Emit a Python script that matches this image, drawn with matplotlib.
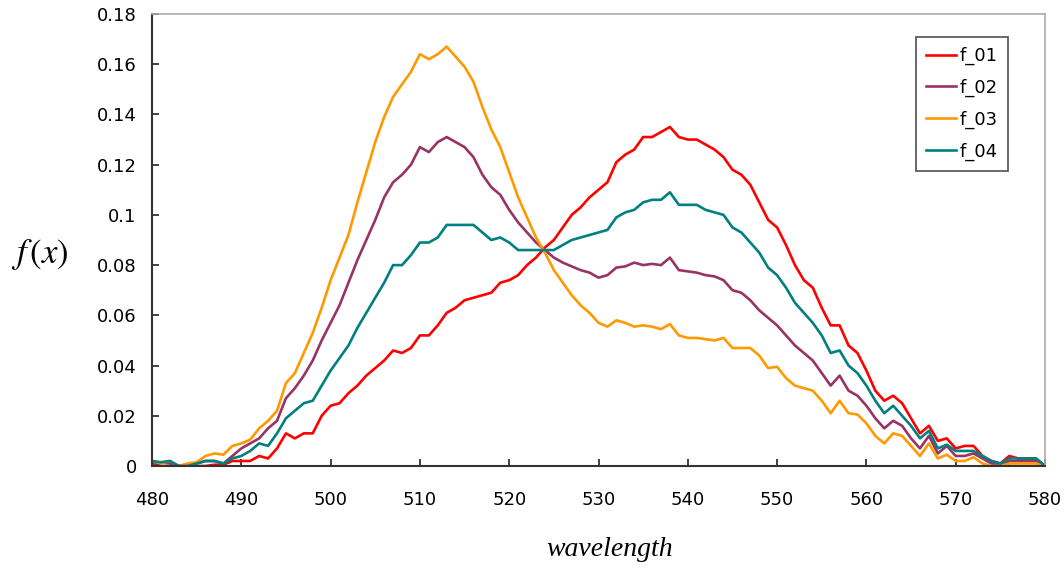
import matplotlib.pyplot as plt

plt.rcParams['mathtext.fontset'] = 'stix'

# wavelength grid (nm)
wavelength = list(range(480, 581))

f_01 = [0.001, 0.0, 0.0, 0.0, 0.0, 0.0, 0.0, 0.0005, 0.0005, 0.002,
        0.002, 0.002, 0.004, 0.003, 0.007, 0.013, 0.011, 0.013, 0.013, 0.020,
        0.024, 0.025, 0.029, 0.032, 0.036, 0.039, 0.042, 0.046, 0.045, 0.047,
        0.052, 0.052, 0.056, 0.061, 0.063, 0.066, 0.067, 0.068, 0.069, 0.073,
        0.074, 0.076, 0.080, 0.083, 0.087, 0.090, 0.095, 0.100, 0.103, 0.107,
        0.110, 0.113, 0.121, 0.124, 0.126, 0.131, 0.131, 0.133, 0.135, 0.131,
        0.130, 0.130, 0.128, 0.126, 0.123, 0.118, 0.116, 0.112, 0.105, 0.098,
        0.095, 0.088, 0.080, 0.074, 0.071, 0.063, 0.056, 0.056, 0.048, 0.045,
        0.038, 0.030, 0.026, 0.028, 0.025, 0.019, 0.013, 0.016, 0.010, 0.011,
        0.007, 0.008, 0.008, 0.004, 0.002, 0.001, 0.004, 0.003, 0.003, 0.003,
        0.0]

f_02 = [0.001, 0.0015, 0.001, 0.0, 0.0, 0.001, 0.002, 0.002, 0.001, 0.004,
        0.007, 0.009, 0.011, 0.015, 0.018, 0.027, 0.031, 0.036, 0.042, 0.050,
        0.057, 0.064, 0.073, 0.082, 0.090, 0.098, 0.107, 0.113, 0.116, 0.120,
        0.127, 0.125, 0.129, 0.131, 0.129, 0.127, 0.123, 0.116, 0.111, 0.108,
        0.102, 0.097, 0.093, 0.089, 0.086, 0.083, 0.081, 0.0795, 0.078, 0.077,
        0.075, 0.076, 0.079, 0.0795, 0.081, 0.080, 0.0805, 0.080, 0.083, 0.078,
        0.0775, 0.077, 0.076, 0.0755, 0.074, 0.070, 0.069, 0.066, 0.062, 0.059,
        0.056, 0.052, 0.048, 0.045, 0.042, 0.037, 0.032, 0.036, 0.030, 0.028,
        0.024, 0.019, 0.015, 0.018, 0.016, 0.011, 0.007, 0.012, 0.005, 0.008,
        0.004, 0.004, 0.005, 0.003, 0.001, 0.0, 0.002, 0.002, 0.002, 0.002,
        0.0]

f_03 = [0.002, 0.001, 0.002, 0.0, 0.001, 0.0015, 0.004, 0.005, 0.0045, 0.008,
        0.009, 0.0105, 0.015, 0.018, 0.022, 0.033, 0.037, 0.045, 0.053, 0.063,
        0.074, 0.083, 0.092, 0.105, 0.117, 0.129, 0.139, 0.147, 0.152, 0.157,
        0.164, 0.162, 0.164, 0.167, 0.163, 0.159, 0.153, 0.143, 0.134, 0.127,
        0.117, 0.107, 0.099, 0.091, 0.085, 0.078, 0.073, 0.068, 0.064, 0.061,
        0.057, 0.0555, 0.058, 0.057, 0.0555, 0.056, 0.0555, 0.0545, 0.0565, 0.052,
        0.051, 0.051, 0.0505, 0.050, 0.051, 0.047, 0.047, 0.047, 0.044, 0.039,
        0.0395, 0.035, 0.032, 0.031, 0.030, 0.026, 0.021, 0.026, 0.021, 0.0205,
        0.017, 0.012, 0.009, 0.013, 0.012, 0.008, 0.004, 0.009, 0.003, 0.0045,
        0.002, 0.002, 0.0035, 0.001, 0.0, 0.0, 0.001, 0.001, 0.001, 0.001,
        0.0]

f_04 = [0.002, 0.0015, 0.002, 0.0, 0.0, 0.001, 0.002, 0.002, 0.001, 0.003,
        0.004, 0.006, 0.009, 0.008, 0.013, 0.019, 0.022, 0.025, 0.026, 0.032,
        0.038, 0.043, 0.048, 0.055, 0.061, 0.067, 0.073, 0.080, 0.080, 0.084,
        0.089, 0.089, 0.091, 0.096, 0.096, 0.096, 0.096, 0.093, 0.090, 0.091,
        0.089, 0.086, 0.086, 0.086, 0.086, 0.086, 0.088, 0.090, 0.091, 0.092,
        0.093, 0.094, 0.099, 0.101, 0.102, 0.105, 0.106, 0.106, 0.109, 0.104,
        0.104, 0.104, 0.102, 0.101, 0.100, 0.095, 0.093, 0.089, 0.085, 0.079,
        0.076, 0.071, 0.065, 0.061, 0.057, 0.052, 0.045, 0.046, 0.040, 0.037,
        0.032, 0.026, 0.021, 0.024, 0.020, 0.016, 0.011, 0.014, 0.007, 0.0085,
        0.006, 0.006, 0.006, 0.004, 0.002, 0.001, 0.003, 0.003, 0.003, 0.003,
        0.0]

series = [("f_01", f_01, "#FF0000"),
          ("f_02", f_02, "#993366"),
          ("f_03", f_03, "#FF9900"),
          ("f_04", f_04, "#008080")]

x_ticks = list(range(480, 581, 10))
y_ticks = [0, 0.02, 0.04, 0.06, 0.08, 0.1, 0.12, 0.14, 0.16, 0.18]
y_labels = ["0", "0.02", "0.04", "0.06", "0.08", "0.1", "0.12", "0.14", "0.16", "0.18"]

tick_font = ['Liberation Sans Narrow', 'DejaVu Sans']

fig = plt.figure(figsize=(10.64, 5.74), dpi=100)
ax = fig.add_axes([152 / 1064, 108 / 574, 893 / 1064, 452 / 574])

for name, vals, col in series:
    ax.plot(wavelength, vals, color=col, lw=1.9, label=name)

ax.set_xlim(480, 580)
ax.set_ylim(0, 0.18)
ax.set_xticks(x_ticks)
ax.set_yticks(y_ticks)
ax.set_yticklabels(y_labels)
for lab in ax.get_xticklabels() + ax.get_yticklabels():
    lab.set_family(tick_font)
    lab.set_fontsize(13)

ax.tick_params(direction='in', length=5, width=1.2, color='#222222')
ax.tick_params(axis='x', pad=18)
ax.tick_params(axis='y', pad=11)

# dark left/bottom, light grey top/right
for s in ['left', 'bottom']:
    ax.spines[s].set_color('#333333')
    ax.spines[s].set_linewidth(1.5)
for s in ['top', 'right']:
    ax.spines[s].set_color('#aaaaaa')
    ax.spines[s].set_linewidth(1.2)

fig.text(40 / 1064, 1 - 255 / 574, r'$f\,(x)$', fontsize=25,
         ha='center', va='center')
fig.text(610 / 1064, 1 - 550 / 574, 'wavelength', fontsize=20,
         family='Liberation Serif', style='italic', ha='center', va='center')

leg = ax.legend(loc='upper right', bbox_to_anchor=(1008 / 1064, 1 - 37 / 574),
                bbox_transform=fig.transFigure, frameon=True, fancybox=False,
                handlelength=1.7, handletextpad=0.2, labelspacing=0.75,
                borderpad=0.55, borderaxespad=0,
                prop={'family': tick_font, 'size': 13})
leg.get_frame().set_edgecolor('#222222')
leg.get_frame().set_linewidth(1.2)

fig.savefig('out.png', dpi=100)
